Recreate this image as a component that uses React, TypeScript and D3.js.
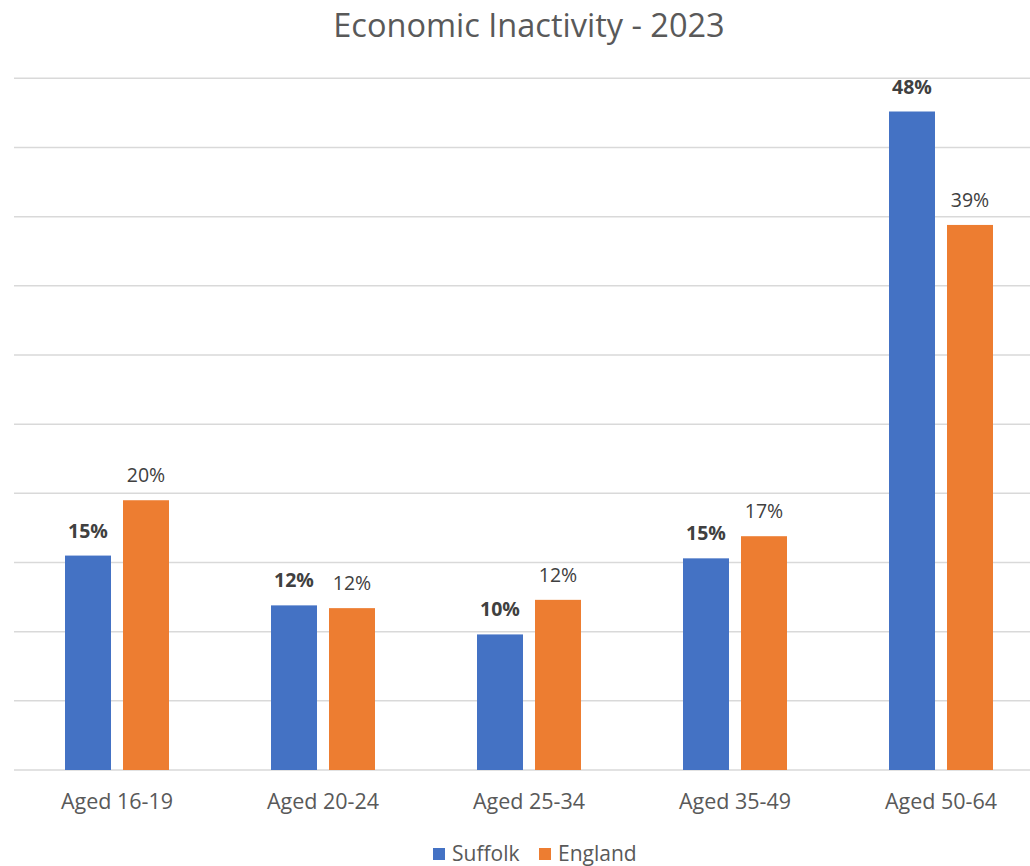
import React from "react";
import * as d3 from "d3";

const categories = ["Aged 16-19", "Aged 20-24", "Aged 25-34", "Aged 35-49", "Aged 50-64"];
const suffolk = [15.5, 11.9, 9.8, 15.3, 47.6];
const england = [19.5, 11.7, 12.3, 16.9, 39.4];
const suffolkLabels = ["15%", "12%", "10%", "15%", "48%"];
const englandLabels = ["20%", "12%", "12%", "17%", "39%"];
const seriesNames = ["Suffolk", "England"];
const seriesColors = ["#4472C4", "#ED7D31"];
const yTicks = [0, 5, 10, 15, 20, 25, 30, 35, 40, 45, 50];

const W = 1030;
const H = 866;
const FONT = "'Open Sans', 'Noto Sans', sans-serif";

export default function App() {
  const left = 14;
  const x = d3.scaleBand<string>().domain(categories).range([left, left + 206 * 5]).paddingInner(0).paddingOuter(0);
  const y = d3.scaleLinear().domain([0, 50]).range([770, 78.3]);
  const inner = d3.scaleBand<string>().domain(seriesNames).range([51, 155]).paddingInner(12 / 58).paddingOuter(0);
  const series = [
    { name: seriesNames[0], values: suffolk, labels: suffolkLabels, color: seriesColors[0], bold: true },
    { name: seriesNames[1], values: england, labels: englandLabels, color: seriesColors[1], bold: false },
  ];
  return (
    <svg width={W} height={H} style={{ position: "absolute", left: 0, top: 0, background: "#fff" }} fontFamily={FONT}>
      <text x={529} y={37} textAnchor="middle" fontSize={32.5} fill="#595959">Economic Inactivity - 2023</text>
      {yTicks.map((t) => (
        <line key={t} x1={left} x2={W} y1={y(t)} y2={y(t)} stroke="#d9d9d9" strokeWidth={1.5} />
      ))}
      {series.map((s) =>
        categories.map((c, i) => {
          const bx = (x(c) as number) + (inner(s.name) as number);
          const bw = inner.bandwidth();
          return (
            <g key={s.name + c}>
              <rect x={bx} y={y(s.values[i])} width={bw} height={y(0) - y(s.values[i])} fill={s.color} />
              <text x={bx + bw / 2} y={y(s.values[i]) - 18} textAnchor="middle" fontSize={19.5}
                fontWeight={s.bold ? 700 : 400} fill="#404040">{s.labels[i]}</text>
            </g>
          );
        })
      )}
      {categories.map((c) => (
        <text key={c} x={(x(c) as number) + x.bandwidth() / 2} y={809} textAnchor="middle" fontSize={21.5} fill="#595959">{c}</text>
      ))}
      <g>
        <rect x={433} y={848} width={12} height={12} fill={seriesColors[0]} />
        <text x={452} y={861} fontSize={21} fill="#595959">{seriesNames[0]}</text>
        <rect x={539} y={848} width={12} height={12} fill={seriesColors[1]} />
        <text x={558} y={861} fontSize={21} fill="#595959">{seriesNames[1]}</text>
      </g>
    </svg>
  );
}
